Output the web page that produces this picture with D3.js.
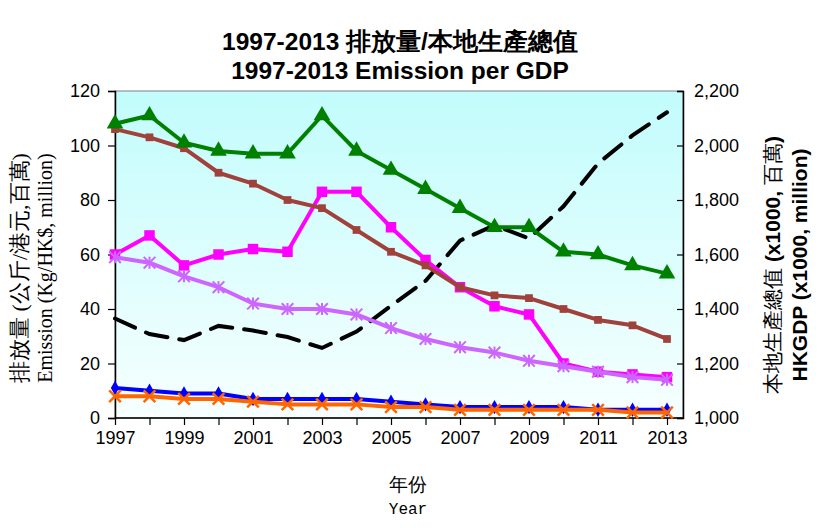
<!DOCTYPE html>
<html><head><meta charset="utf-8">
<script src="https://cdn.jsdelivr.net/npm/d3@7/dist/d3.min.js"></script>
<style>body{margin:0;background:#fff}svg{display:block}</style>
</head><body><svg id="c" width="818" height="528"></svg>
<script>
const years = [1997,1998,1999,2000,2001,2002,2003,2004,2005,2006,2007,2008,2009,2010,2011,2012,2013];
const greenTri   = [108,111,101,98,97,97,111,98,91,84,77,70,70,61,60,56,53];
const brownSq    = [106,103,99,90,86,80,77,69,61,56,48,45,44,40,36,34,29];
const magentaSq  = [60,67,56,60,62,61,83,83,70,58,48,41,38,20,17,16,15];
const violetStar = [59,57,52,48,42,40,40,38,33,29,26,24,21,19,17,15,14];
const blueDia    = [11,10,9,9,7,7,7,7,6,5,4,4,4,4,3,3,3];
const orangeX    = [8,8,7,7,6,5,5,5,4,4,3,3,3,3,3,2,2];
const gdp        = [1365,1308,1286,1338,1321,1297,1257,1317,1412,1503,1651,1707,1659,1777,1934,2037,2122];
const leftTicks  = [0,20,40,60,80,100,120];
const rightTicks = [1000,1200,1400,1600,1800,2000,2200];
const xLabelYears = [1997,1999,2001,2003,2005,2007,2009,2011,2013];

const svg = d3.select("#c");
const L=115, R=683, T=91, B=418;
const x = d3.scaleLinear().domain([1997,2013]).range([L,667]);
const y = d3.scaleLinear().domain([0,120]).range([B,T]);
const y2 = d3.scaleLinear().domain([1000,2200]).range([B,T]);

const defs = svg.append("defs");
const g = defs.append("linearGradient").attr("id","bg").attr("x1",0).attr("y1",0).attr("x2",0).attr("y2",1);
g.append("stop").attr("offset","0%").attr("stop-color","#c2fcfc");
g.append("stop").attr("offset","100%").attr("stop-color","#f7ffff");
svg.append("rect").attr("x",L).attr("y",T).attr("width",R-L).attr("height",B-T).attr("fill","url(#bg)").attr("stroke","#808080").attr("stroke-width",1);

const SANS="Liberation Sans, Arial, sans-serif";
// axes
const axL = svg.append("g").attr("transform",`translate(${L},0)`)
  .call(d3.axisLeft(y).tickValues(leftTicks).tickSize(7).tickPadding(8));
const axR = svg.append("g").attr("transform",`translate(${R},0)`)
  .call(d3.axisRight(y2).tickValues(rightTicks).tickSize(-6).tickPadding(11).tickFormat(d3.format(",")));
const axB = svg.append("g").attr("transform",`translate(0,${B})`)
  .call(d3.axisBottom(x).tickValues(years).tickSize(7).tickPadding(6).tickFormat(d=>xLabelYears.includes(d)?String(d):""));
[axL,axR,axB].forEach(a=>{
  a.selectAll("path").attr("stroke","#000").attr("stroke-width",1.5);
  a.selectAll("line").attr("stroke","#000").attr("stroke-width",1.2);
  a.selectAll("text").attr("font-family",SANS).attr("font-size",18).attr("fill","#000");
});
axB.select("path").attr("d",`M${L},0H${R}`);

const line = (arr, sc) => d3.line().x((d,i)=>x(years[i])).y(d=>sc(d))(arr);

// GDP dashed
svg.append("path").attr("d",line(gdp,y2)).attr("fill","none").attr("stroke","#000")
  .attr("stroke-width",4).attr("stroke-dasharray","22,12").attr("stroke-linecap","round");

function series(arr,color,marker,size){
  svg.append("path").attr("d",line(arr,y)).attr("fill","none").attr("stroke",color).attr("stroke-width",4).attr("stroke-linejoin","round");
  const gg = svg.append("g");
  arr.forEach((v,i)=>{
    const cx=x(years[i]), cy=y(v);
    if(marker==="tri"){
      gg.append("path").attr("d",d3.symbol(d3.symbolTriangle,size)()).attr("transform",`translate(${cx},${cy})`).attr("fill",color);
    } else if(marker==="sq"){
      gg.append("path").attr("d",d3.symbol(d3.symbolSquare,size)()).attr("transform",`translate(${cx},${cy})`).attr("fill",color);
    } else if(marker==="dia"){
      gg.append("path").attr("d",d3.symbol(d3.symbolDiamond,size)()).attr("transform",`translate(${cx},${cy})`).attr("fill",color);
    } else if(marker==="x"){
      gg.append("path").attr("d",d3.symbol(d3.symbolTimes,size)()).attr("transform",`translate(${cx},${cy})`).attr("fill","none").attr("stroke",color).attr("stroke-width",2.5);
    } else if(marker==="star"){
      gg.append("path").attr("d",d3.symbol(d3.symbolTimes,size)()).attr("transform",`translate(${cx},${cy})`).attr("fill","none").attr("stroke",color).attr("stroke-width",2);
      gg.append("line").attr("x1",cx).attr("x2",cx).attr("y1",cy-6).attr("y2",cy+6).attr("stroke",color).attr("stroke-width",2);
    }
  });
}
series(magentaSq,"#ff00ff","sq",110);
series(violetStar,"#cc66ff","star",90);
series(brownSq,"#a0413c","sq",60);
series(greenTri,"#008000","tri",120);
series(blueDia,"#0000ff","dia",60);
series(orangeX,"#ff6600","x",90);

// titles
const t = svg.append("text").attr("text-anchor","middle").attr("font-family",SANS).attr("font-weight","bold").attr("font-size",24.5).attr("fill","#000");
t.append("tspan").attr("x",400).attr("y",50).text("1997-2013 排放量/本地生產總值");
t.append("tspan").attr("x",400).attr("y",79).text("1997-2013 Emission per GDP");

// left y label
const yl = svg.append("text").attr("transform","translate(0,268) rotate(-90)").attr("text-anchor","middle")
  .attr("font-family","Liberation Serif, Times New Roman, serif").attr("font-size",20).attr("fill","#000");
yl.append("tspan").attr("x",0).attr("y",27).attr("font-size",22).text("排放量 (公斤/港元,百萬)");
yl.append("tspan").attr("x",0).attr("y",52).text("Emission (Kg/HK$, million)");

// right y label
const yr = svg.append("text").attr("transform","translate(0,265) rotate(-90)").attr("text-anchor","middle")
  .attr("font-family",SANS).attr("font-weight","bold").attr("font-size",21).attr("fill","#000");
const yr1 = yr.append("tspan").attr("x",0).attr("y",780);
yr1.append("tspan").attr("font-weight","normal").text("本地生產總值");
yr1.append("tspan").text(" (x1000, ");
yr1.append("tspan").attr("font-weight","normal").text("百萬");
yr1.append("tspan").text(")");
yr.append("tspan").attr("x",0).attr("y",807).text("HKGDP (x1000, million)");

// x label
const xl = svg.append("text").attr("text-anchor","middle").attr("font-family","Liberation Mono, monospace").attr("font-size",16).attr("fill","#000");
xl.append("tspan").attr("x",408).attr("y",491).attr("font-size",19).text("年份");
xl.append("tspan").attr("x",408).attr("y",514).text("Year");
</script></body></html>
